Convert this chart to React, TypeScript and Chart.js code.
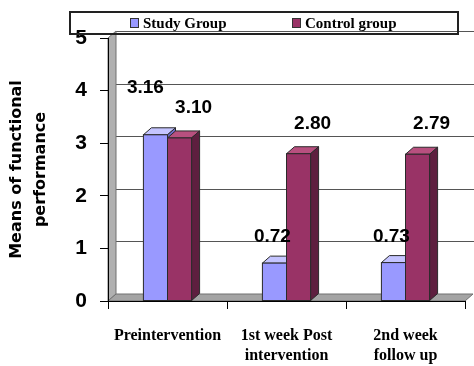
import React, { useEffect, useRef } from "react";
import { Chart, registerables } from "chart.js";

Chart.register(...registerables);

const categories: string[][] = [["Preintervention"], ["1st week Post", "intervention"], ["2nd week", "follow up"]];
const seriesNames = ["Study Group", "Control group"];
const studyGroup = [3.16, 0.72, 0.73];
const controlGroup = [3.1, 2.8, 2.79];
const yMin = 0;
const yMax = 5;
const yStep = 1;

const FRONT = ["#9999ff", "#993366"];
const TOP = ["#c4c4ff", "#b8507f"];
const SIDE = ["#6b6bc8", "#5e1f3f"];
const DX = 8;
const DY = -7;
// label placement per series: horizontal shift and gap above bar top
const LABEL_DX = [-2, 14];
const LABEL_GAP = [26, 30];
const LABEL_MARGIN = 4;

const threeD = {
  id: "threeD",
  beforeDraw(chart: any) {
    const { ctx, chartArea, scales } = chart;
    const { left, right, top, bottom } = chartArea;
    const y = scales.y;
    ctx.save();
    ctx.strokeStyle = "#555";
    ctx.lineWidth = 1;
    for (let v = yMin + yStep; v <= yMax; v += yStep) {
      const yy = Math.round(y.getPixelForValue(v) + DY) + 0.5;
      ctx.beginPath();
      ctx.moveTo(left + DX, yy);
      ctx.lineTo(chart.width, yy);
      ctx.stroke();
    }
    ctx.fillStyle = "#b0b0b0";
    ctx.strokeStyle = "#707070";
    ctx.beginPath();
    ctx.moveTo(left, top);
    ctx.lineTo(left + DX, top + DY);
    ctx.lineTo(left + DX, bottom + DY);
    ctx.lineTo(left, bottom);
    ctx.closePath();
    ctx.fill();
    ctx.stroke();
    ctx.fillStyle = "#a4a4a4";
    ctx.beginPath();
    ctx.moveTo(left, bottom);
    ctx.lineTo(left + DX, bottom + DY);
    ctx.lineTo(right + DX, bottom + DY);
    ctx.lineTo(right, bottom);
    ctx.closePath();
    ctx.fill();
    ctx.stroke();
    ctx.restore();
  },
  afterDatasetsDraw(chart: any) {
    const { ctx } = chart;
    ctx.save();
    ctx.lineWidth = 1;
    ctx.strokeStyle = "#2a2a2a";
    chart.data.datasets.forEach((ds: any, di: number) => {
      const meta = chart.getDatasetMeta(di);
      meta.data.forEach((el: any) => {
        const x1 = el.x - el.width / 2;
        const x2 = el.x + el.width / 2;
        const t = el.y;
        const b = el.base;
        ctx.fillStyle = TOP[di];
        ctx.beginPath();
        ctx.moveTo(x1, t);
        ctx.lineTo(x1 + DX, t + DY);
        ctx.lineTo(x2 + DX, t + DY);
        ctx.lineTo(x2, t);
        ctx.closePath();
        ctx.fill();
        ctx.stroke();
        ctx.fillStyle = SIDE[di];
        ctx.beginPath();
        ctx.moveTo(x2, t);
        ctx.lineTo(x2 + DX, t + DY);
        ctx.lineTo(x2 + DX, b + DY);
        ctx.lineTo(x2, b);
        ctx.closePath();
        ctx.fill();
        ctx.stroke();
        ctx.fillStyle = FRONT[di];
        ctx.fillRect(x1, t, el.width, b - t);
        ctx.strokeRect(x1, t, el.width, b - t);
      });
    });
    ctx.fillStyle = "#000";
    ctx.font = "bold 19px 'Liberation Sans', Arial, sans-serif";
    ctx.textAlign = "center";
    ctx.textBaseline = "middle";
    const placed: { x1: number; x2: number; y1: number; y2: number }[] = [];
    const order = [1, 0];
    order.forEach((di) => {
      const ds = chart.data.datasets[di];
      const meta = chart.getDatasetMeta(di);
      meta.data.forEach((el: any, i: number) => {
        const txt = Number(ds.data[i]).toFixed(2);
        const w = ctx.measureText(txt).width;
        const h = 16;
        let cx = el.x + LABEL_DX[di];
        let cy = el.y - LABEL_GAP[di];
        const m = LABEL_MARGIN;
        const hit = () =>
          placed.some(
            (p) => cx - w / 2 - m < p.x2 && cx + w / 2 + m > p.x1 && cy - h / 2 - m < p.y2 && cy + h / 2 + m > p.y1
          );
        let guard = 0;
        while (hit() && guard < 60) {
          cy -= 1;
          guard++;
        }
        if (guard > 0) cx -= 8;
        placed.push({ x1: cx - w / 2, x2: cx + w / 2, y1: cy - h / 2, y2: cy + h / 2 });
        ctx.fillText(txt, cx, cy);
      });
    });
    ctx.restore();
  },
  afterDraw(chart: any) {
    const { ctx } = chart;
    ctx.save();
    const lx = 70, ly = 12, lw = 388, lh = 22;
    ctx.strokeStyle = "#222";
    ctx.lineWidth = 2;
    ctx.strokeRect(lx, ly, lw, lh);
    ctx.font = "bold 15px 'Liberation Serif', 'Times New Roman', serif";
    ctx.textBaseline = "middle";
    ctx.textAlign = "left";
    const starts = [130, 292];
    chart.data.datasets.forEach((ds: any, di: number) => {
      const sx = starts[di];
      const cy = ly + lh / 2;
      ctx.fillStyle = FRONT[di];
      ctx.fillRect(sx, cy - 5, 9, 10);
      ctx.lineWidth = 1;
      ctx.strokeStyle = "#333";
      ctx.strokeRect(sx + 0.5, cy - 4.5, 8, 9);
      ctx.fillStyle = "#000";
      ctx.fillText(ds.label, sx + 13, cy + 1);
    });
    ctx.restore();
  },
};

export default function App() {
  const ref = useRef<HTMLCanvasElement | null>(null);
  useEffect(() => {
    if (!ref.current) return;
    const chart = new Chart(ref.current, {
      type: "bar",
      data: {
        labels: categories,
        datasets: [
          { label: seriesNames[0], data: studyGroup, backgroundColor: FRONT[0], categoryPercentage: 0.405, barPercentage: 1 },
          { label: seriesNames[1], data: controlGroup, backgroundColor: FRONT[1], categoryPercentage: 0.405, barPercentage: 1 },
        ],
      },
      options: {
        animation: false,
        responsive: true,
        maintainAspectRatio: false,
        layout: { padding: { top: 38, right: 9, left: 0, bottom: 0 } },
        plugins: { legend: { display: false }, tooltip: { enabled: false } },
        scales: {
          x: {
            offset: true,
            grid: { offset: true, drawOnChartArea: false, drawTicks: true, tickLength: 8, color: "#000" },
            border: { display: true, color: "#000", width: 1 },
            ticks: {
              color: "#000",
              padding: 16,
              maxRotation: 0,
              autoSkip: false,
              font: { family: "'Liberation Serif', 'Times New Roman', serif", weight: "bold", size: 16, lineHeight: 1.3 },
            },
            afterFit: (s: any) => { s.height = 65; },
          },
          y: {
            min: yMin,
            max: yMax,
            grid: { drawOnChartArea: false, drawTicks: true, tickLength: 8, color: "#000" },
            border: { display: true, color: "#000", width: 1 },
            ticks: {
              stepSize: yStep,
              color: "#000",
              padding: 13,
              font: { family: "'Liberation Sans', Arial, sans-serif", weight: "bold", size: 21 },
            },
            title: {
              display: true,
              text: ["Means of functional", "performance"],
              color: "#000",
              padding: { top: 5, bottom: 0 },
              font: { family: "'DejaVu Sans', sans-serif", weight: "bold", size: 16, lineHeight: 1.5 },
            },
            afterFit: (s: any) => { s.width = 108; },
          },
        },
      },
      plugins: [threeD],
    });
    return () => chart.destroy();
  }, []);
  return (
    <div style={{ position: "absolute", left: 0, top: 0, width: 474, height: 366, background: "#fff" }}>
      <canvas ref={ref} />
    </div>
  );
}
